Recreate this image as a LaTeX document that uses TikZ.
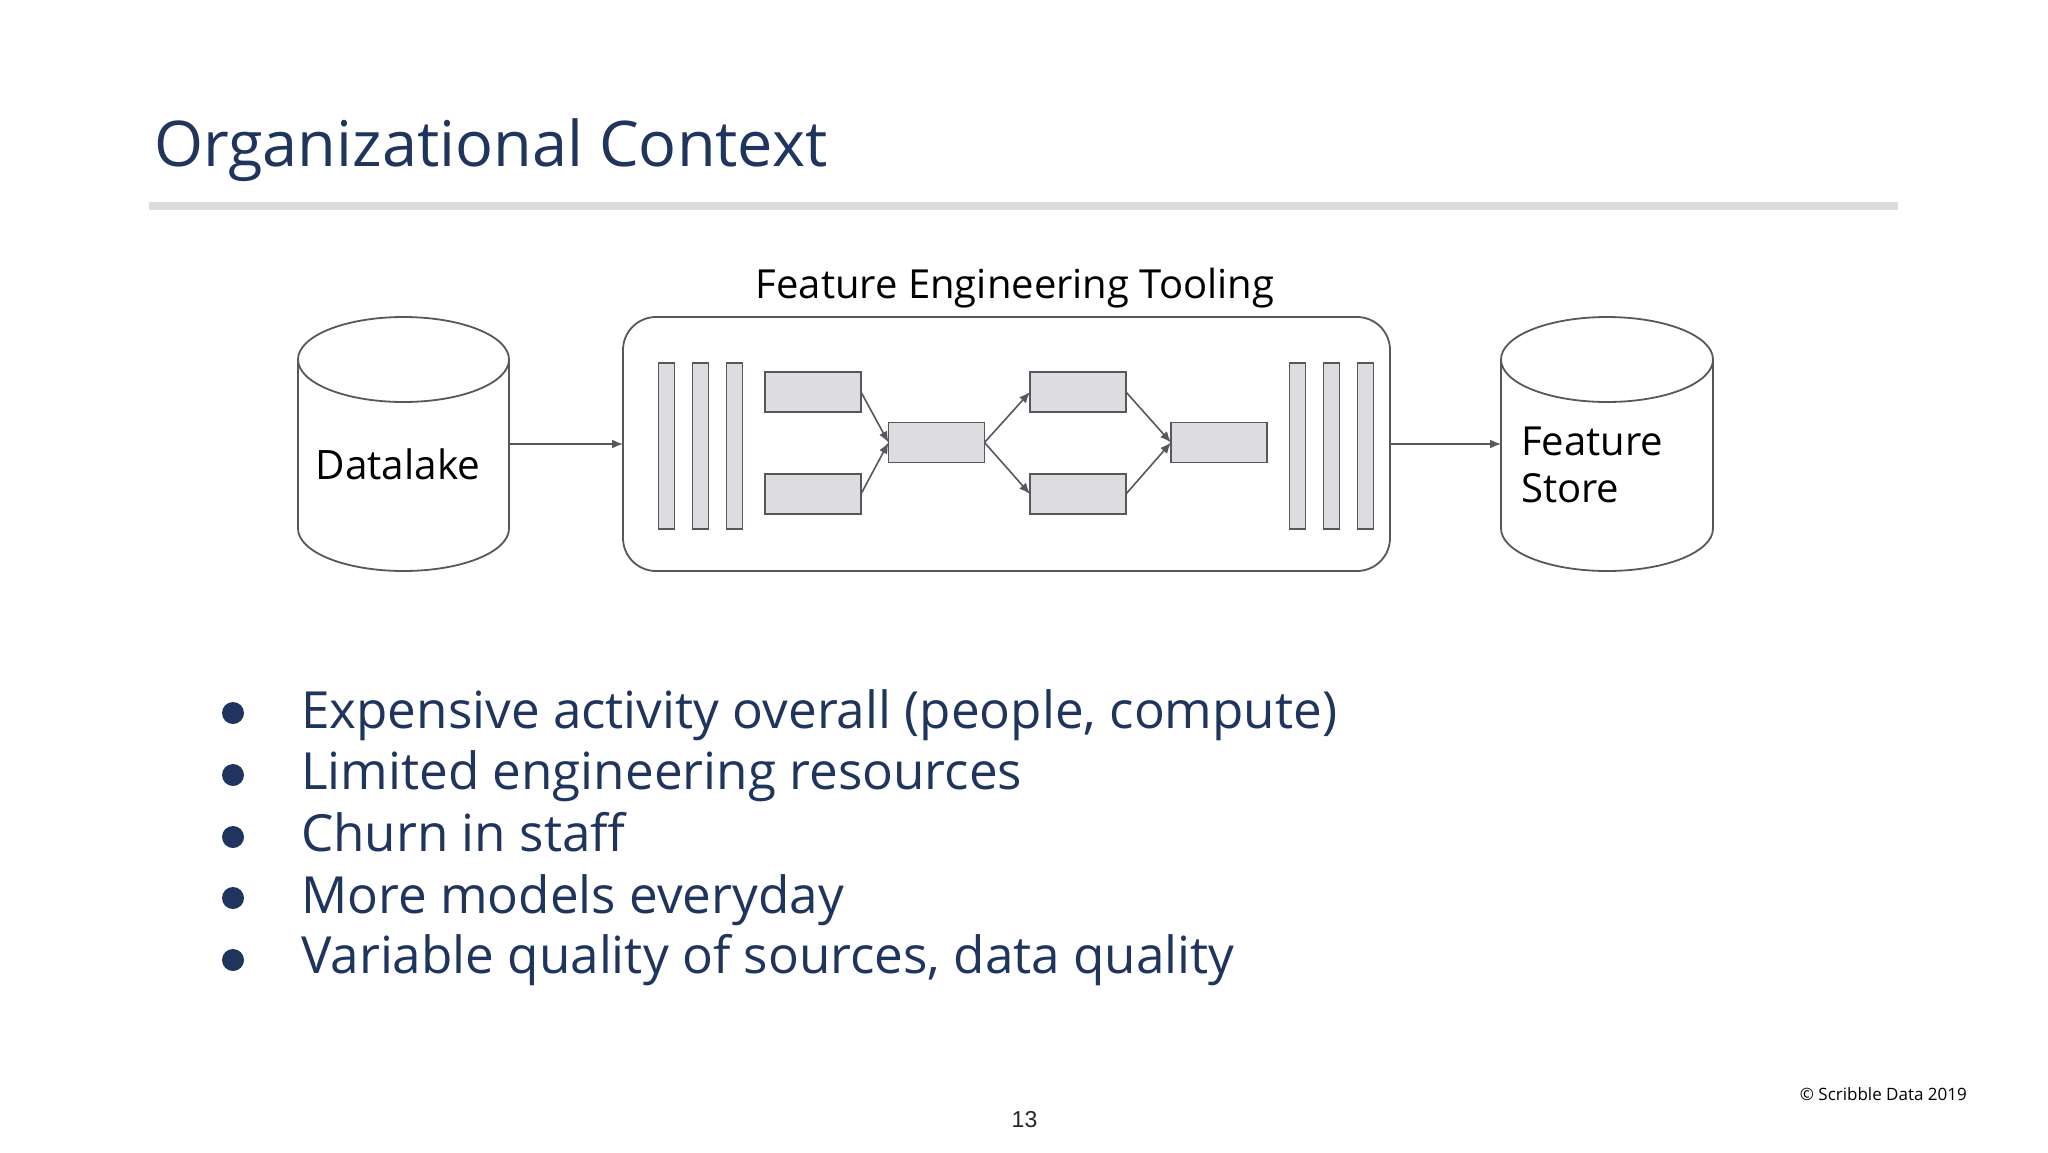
\documentclass[tikz,border=0pt]{standalone}
\usepackage{fontspec}
\setmainfont{Open Sans}
\newfontfamily\helv{Liberation Sans}
\usetikzlibrary{arrows.meta}
\definecolor{navy}{RGB}{31,53,94}
\definecolor{lin}{RGB}{88,88,90}
\definecolor{boxfill}{RGB}{221,221,225}
\definecolor{rulegray}{RGB}{220,220,222}
\tikzset{
  line/.style={draw=lin, line width=1.8pt},
  conn/.style={draw=lin, line width=1.6pt, -{Latex[length=11pt,width=9pt]}},
  bar/.style={line, fill=boxfill, inner sep=0pt, outer sep=0pt, minimum width=16pt, minimum height=166pt},
  blk/.style={line, fill=boxfill, inner sep=0pt, outer sep=0pt, minimum width=96pt, minimum height=40pt},
  area/.style={inner sep=0pt, outer sep=0pt, draw=none},
  bul/.style={fill=navy, circle, inner sep=0pt, minimum size=22pt},
  btext/.style={anchor=base west, inner sep=0pt, text=navy, font=\fontsize{51.2}{62}\selectfont},
  dtext/.style={inner sep=0pt, font=\fontsize{40}{48}\selectfont},
}
\begin{document}
\begin{tikzpicture}[x=1pt,y=-1pt]
\useasboundingbox (0,0) rectangle (2048,1152);
\fill[white] (0,0) rectangle (2048,1152);
% title
\node[anchor=base west, inner sep=0pt, text=navy, font=\fontsize{63}{76}\selectfont] (title) at (154,166) {Organizational Context};
\fill[rulegray] (149,202) rectangle (1898,210);
% Datalake cylinder
\filldraw[line, fill=white] (298,359.5) -- (298,528.5) arc[start angle=180,end angle=360,x radius=105.5pt,y radius=42.5pt] -- (509,359.5);
\filldraw[line, fill=white] (403.5,359.5) ellipse[x radius=105.5pt, y radius=42.5pt];
\node[area, minimum width=211pt, minimum height=254pt] (dl) at (403.5,444) {};
\node[dtext, anchor=base, font=\fontsize{40.5}{48}\selectfont] (dltext) at (398,479) {Datalake};
% Feature store cylinder
\filldraw[line, fill=white] (1501,359.5) -- (1501,528.5) arc[start angle=180,end angle=360,x radius=106pt,y radius=42.5pt] -- (1713,359.5);
\filldraw[line, fill=white] (1607,359.5) ellipse[x radius=106pt, y radius=42.5pt];
\node[area, minimum width=212pt, minimum height=254pt] (fs) at (1607,444) {};
\node[dtext, anchor=base west] (fstext1) at (1521,455) {Feature};
\node[dtext, anchor=base west] (fstext2) at (1521,502) {Store};
% tooling box
\node[line, rounded corners=33pt, inner sep=0pt, outer sep=0pt, minimum width=767pt, minimum height=254pt] (tool) at (1006.5,444) {};
\node[dtext, anchor=base] (tooltext) at (1015,298) {Feature Engineering Tooling};
% bars
\node[bar] (l1) at (666.5,446) {};
\node[bar] (l2) at (700.5,446) {};
\node[bar] (l3) at (734.5,446) {};
\node[bar] (r1) at (1297.5,446) {};
\node[bar] (r2) at (1331.5,446) {};
\node[bar] (r3) at (1365.5,446) {};
% blocks
\node[blk] (A) at (813,392) {};
\node[blk] (B) at (813,494) {};
\node[blk] (C) at (936.5,442.5) {};
\node[blk] (D) at (1078,392) {};
\node[blk] (E) at (1078,494) {};
\node[blk] (F) at (1219,442.5) {};
\draw[conn] (A.east) -- (C.west);
\draw[conn] (B.east) -- (C.west);
\draw[conn] (C.east) -- (D.west);
\draw[conn] (C.east) -- (E.west);
\draw[conn] (D.east) -- (F.west);
\draw[conn] (E.east) -- (F.west);
\draw[conn] (dl.east) -- (tool.west);
\draw[conn] (tool.east) -- (fs.west);
% bullets
\node[bul] (b1) at (233,713) {};
\node[bul] (b2) at (233,775) {};
\node[bul] (b3) at (233,837) {};
\node[bul] (b4) at (233,898) {};
\node[bul] (b5) at (233,960) {};
\node[btext] (t1) at (301,728) {Expensive activity overall (people, compute)};
\node[btext] (t2) at (301,789) {Limited engineering resources};
\node[btext] (t3) at (301,851) {Churn in staff};
\node[btext] (t4) at (301,913) {More models everyday};
\node[btext] (t5) at (301,973) {Variable quality of sources, data quality};
% footer
\node[anchor=base east, inner sep=0pt, font=\fontsize{17}{20}\selectfont] (copy) at (1967,1100) {© Scribble Data 2019};
\node[anchor=base, inner sep=0pt, font=\helv\fontsize{23}{27}\selectfont, text=black!85] (pnum) at (1024.5,1127) {13};
\end{tikzpicture}
\end{document}
